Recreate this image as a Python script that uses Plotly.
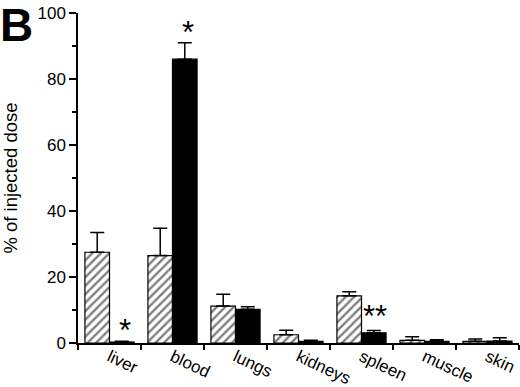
import plotly.graph_objects as go

categories = ["liver", "blood", "lungs", "kidneys", "spleen", "muscle", "skin"]
hatched_vals = [27.5, 26.5, 11.2, 2.5, 14.3, 0.8, 0.5]
hatched_err = [6.0, 8.3, 3.6, 1.4, 1.2, 1.1, 0.7]
black_vals = [0.3, 86.0, 10.2, 0.5, 3.1, 0.5, 0.6]
black_err = [0.2, 5.0, 0.8, 0.3, 0.7, 0.5, 1.0]
star_cats = ["liver", "blood", "spleen"]
star_text = ["*", "*", "**"]
star_y = [3.8, 94.0, 8.0]
star_dx = [15, 15, 13]

font = "Liberation Sans, Arial, Helvetica, sans-serif"

fig = go.Figure()
fig.add_trace(go.Bar(
    x=categories, y=hatched_vals, name="hatched",
    marker=dict(color="white", line=dict(color="black", width=1.2),
                pattern=dict(shape="/", fgcolor="black", bgcolor="white", size=6, solidity=0.4)),
    error_y=dict(type="data", array=hatched_err, arrayminus=[0]*len(hatched_err), symmetric=False,
                 color="black", thickness=1.5, width=7),
))
fig.add_trace(go.Bar(
    x=categories, y=black_vals, name="black",
    marker=dict(color="black", line=dict(color="black", width=1.2)),
    error_y=dict(type="data", array=black_err, arrayminus=[0]*len(black_err), symmetric=False,
                 color="black", thickness=1.5, width=7),
))

for c, t, y, dx in zip(star_cats, star_text, star_y, star_dx):
    fig.add_annotation(x=c, y=y, xref="x", yref="y", text=t, showarrow=False,
                       xshift=dx, yanchor="middle",
                       font=dict(size=31, color="black", family=font))

fig.add_annotation(x=0, y=1, xref="paper", yref="paper", xanchor="left", yanchor="top",
                   xshift=-80, yshift=16, text="<b>B</b>", showarrow=False,
                   font=dict(size=46, color="black", family=font))

fig.update_layout(
    width=520, height=387,
    margin=dict(l=78, r=1, t=13, b=44),
    paper_bgcolor="white", plot_bgcolor="white",
    barmode="group", bargap=0.22, bargroupgap=0,
    showlegend=False,
    font=dict(family=font, size=17, color="black"),
)
fig.update_xaxes(
    type="category", showline=True, linecolor="black", linewidth=1.5,
    ticks="outside", tickson="boundaries", ticklen=5, tickcolor="black", tickwidth=1.5,
    tickangle=25, tickfont=dict(size=17), showgrid=False, zeroline=False, automargin=False,
    ticklabelstandoff=-4,
)
fig.update_yaxes(
    range=[0, 100], dtick=20, showline=True, linecolor="black", linewidth=1.5,
    ticks="outside", ticklen=7, tickcolor="black", tickwidth=1.5,
    minor=dict(dtick=10, ticks="outside", ticklen=4, tickcolor="black", tickwidth=1.5),
    showgrid=False, zeroline=False, tickfont=dict(size=17), automargin=False,
    title=dict(text="% of injected dose", font=dict(size=18.5), standoff=16),
)

fig.write_html("out.html", config={"displayModeBar": False},
               post_script="document.body.style.margin='0';")
